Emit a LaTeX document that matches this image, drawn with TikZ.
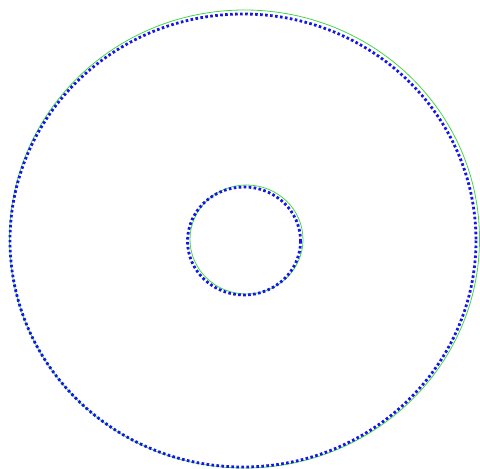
\documentclass[tikz,border=0pt]{standalone}
\begin{document}
\begin{tikzpicture}[x=1pt,y=-1pt,
  refcircle/.style={draw={rgb,255:red,70;green,215;blue,70}, line width=0.8pt},
  sampled/.style={draw={rgb,255:red,20;green,20;blue,235}, line width=2.8pt, dash pattern=on 2.6pt off 2.4pt}]
\useasboundingbox (0,0) rectangle (480,469);
\coordinate (c) at (244.5,239);
\coordinate (ci) at (246.5,239.5);
\draw[refcircle] (c) ellipse [x radius=235, y radius=229];
\draw[sampled] (243,240.5) ellipse [x radius=233, y radius=226.5];
\draw[refcircle] (ci) ellipse [x radius=56.5, y radius=54.5];
\draw[sampled] (244,241) ellipse [x radius=56.5, y radius=54];
\end{tikzpicture}
\end{document}
